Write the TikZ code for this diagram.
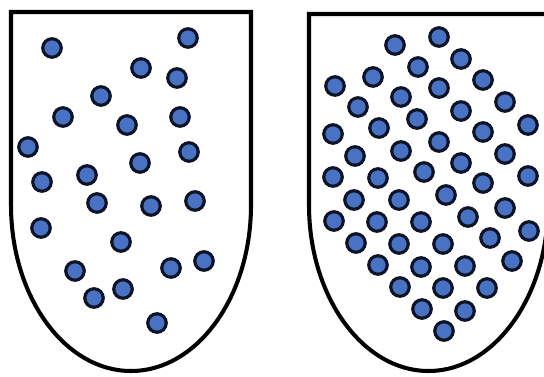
\documentclass[tikz,border=0pt]{standalone}
\usepackage{tikz}
\usetikzlibrary{positioning}
\usepackage{xcolor}
\definecolor{dotblue}{RGB}{72,114,196}
\definecolor{dotrim}{RGB}{14,20,38}

\begin{document}
\begin{tikzpicture}[x=0.02cm,y=-0.02cm]
\tikzstyle{tube}=[draw=black, line width=2.3pt, fill=white]
\tikzstyle{ball}=[circle, draw=dotrim, line width=1.8pt, fill=dotblue, minimum size=0.37cm, inner sep=0pt]
\useasboundingbox (0,0) rectangle (544,377);
\clip (0,0) rectangle (544,377);
\draw[tube] (11,12) -- (251,12) -- (251,205) .. controls (251,297) and (197,371) .. (131,371)
  .. controls (65,371) and (11,297) .. (11,205) -- cycle;
\draw[tube] (309,14) -- (548,14) -- (548,205) .. controls (548,297) and (494,371) .. (428.5,371)
  .. controls (363,371) and (309,297) .. (309,205) -- cycle;
\foreach \x/\y [count=\i] in {52/48,188/38,141/68,177/78,101/96,63/117,127/125,180/117,
  28/147,189/152,140/163,87/175,42/182,97/203,151/206,195/201,41/228,121/242,
  75/271,171/268,204/261,123/289,94/298,157/323}
  \node[ball] (left\i) at (\x,\y) {};
\foreach \x/\y [count=\i] in {439/37,461/59,483/80,505/102,528/125,
  395/45,418/67,439/88,461/111,483/132,505/154,528/176,
  373/77,401/97,417/119,439/142,461/163,483/183,505/208,529/231,
  335/86,358/107,379/128,401/151,424/172,446/195,468/217,490/238,512/261,
  333/134,355/156,378/178,399/200,421/222,443/244,465/266,487/288,
  333/177,354/200,377/222,399/244,421/267,443/288,465/311,
  334/221,356/243,378/265,400/287,422/309,444/331}
  \node[ball] (right\i) at (\x,\y) {};
\end{tikzpicture}
\end{document}
